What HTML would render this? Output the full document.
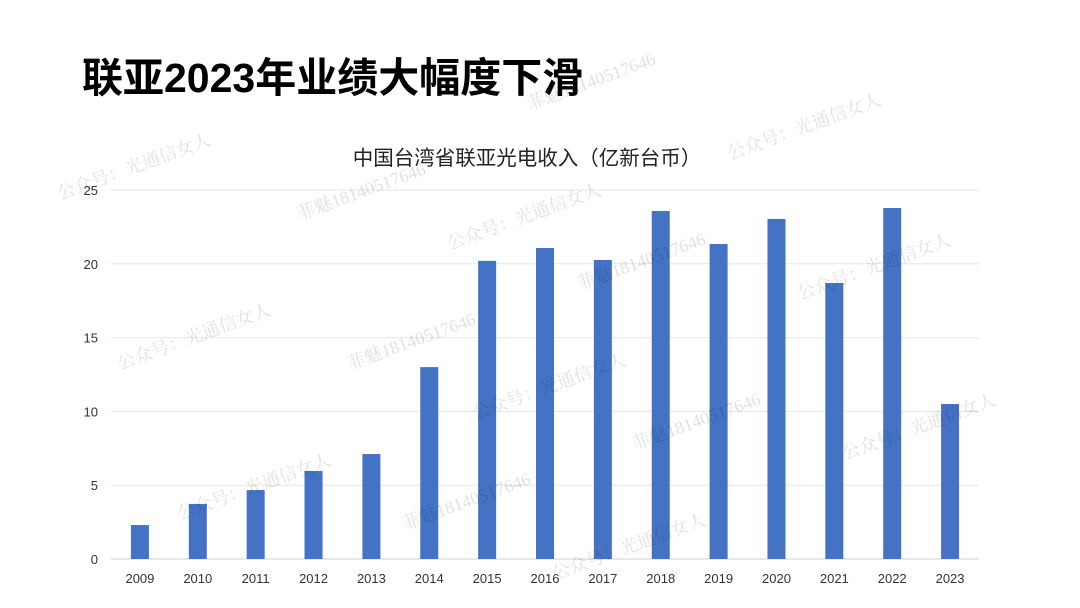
<!DOCTYPE html>
<html><head><meta charset="utf-8"><style>
body{margin:0;width:1080px;height:608px;background:#fff;overflow:hidden;font-family:"Liberation Sans","Noto Sans CJK SC",sans-serif;}
#title{position:absolute;left:82px;top:44px;font-size:41px;font-weight:bold;color:#000;letter-spacing:0px;}
svg{position:absolute;left:0;top:0;}
</style></head><body>
<div id="title">联亚2023年业绩大幅度下滑</div>
<svg id="chart" width="1080" height="608"></svg>
<script>
const categories=["2009","2010","2011","2012","2013","2014","2015","2016","2017","2018","2019","2020","2021","2022","2023"];
const revenue=[2.3,3.73,4.67,5.96,7.11,13.0,20.2,21.07,20.26,23.58,21.34,23.04,18.7,23.78,10.5];
const yTicks=[0,5,10,15,20,25];
const ns="http://www.w3.org/2000/svg";
const svg=document.getElementById('chart');
const L=111,R=979,T=190,B=559,yMax=25;
const y=v=>B-(v/yMax)*(B-T);
const step=(R-L)/categories.length;
const x=i=>L+step*(i+0.5);
function mk(t,a){const e=document.createElementNS(ns,t);for(const k in a)e.setAttribute(k,a[k]);svg.appendChild(e);return e;}
let t=mk('text',{x:527,y:165,'text-anchor':'middle','font-size':20.5,fill:'#222'});


t.textContent='中国台湾省联亚光电收入（亿新台币）';
yTicks.forEach(v=>{
 const g=mk('line',{x1:L,x2:R,y1:y(v),y2:y(v),stroke:v===0?'#d0d0d0':'#e6e6e6','stroke-width':1});
 
 
 const l=mk('text',{x:98,y:y(v)+5,'text-anchor':'end','font-size':13,fill:'#333'});
 
 
 l.textContent=v;
});
categories.forEach((c,i)=>{
 const bw=18;
 const r=mk('rect',{x:x(i)-bw/2,y:y(revenue[i]),width:bw,height:B-y(revenue[i]),fill:'#4472C4'});
 
 
 const l=mk('text',{x:x(i),y:583,'text-anchor':'middle','font-size':13,fill:'#333'});
 
 
 l.textContent=c;
});
const wm=[["公众号：光通信女人",60,200],["菲魅18140517646",300,220],["公众号：光通信女人",450,250],["菲魅18140517646",530,110],["公众号：光通信女人",730,160],["公众号：光通信女人",120,370],["菲魅18140517646",350,370],["菲魅18140517646",580,290],["公众号：光通信女人",800,300],["公众号：光通信女人",475,420],["菲魅18140517646",635,450],["公众号：光通信女人",845,460],["公众号：光通信女人",180,520],["菲魅18140517646",405,530],["公众号：光通信女人",555,580]];
wm.forEach(w=>{
 const e=mk('text',{x:w[1],y:w[2],'font-size':18,fill:'#000','fill-opacity':0.12,transform:`rotate(-20 ${w[1]} ${w[2]})`,'font-family':'"Liberation Serif","Noto Serif CJK SC",serif'});
 
 
 e.textContent=w[0];
});
</script>
</body></html>
